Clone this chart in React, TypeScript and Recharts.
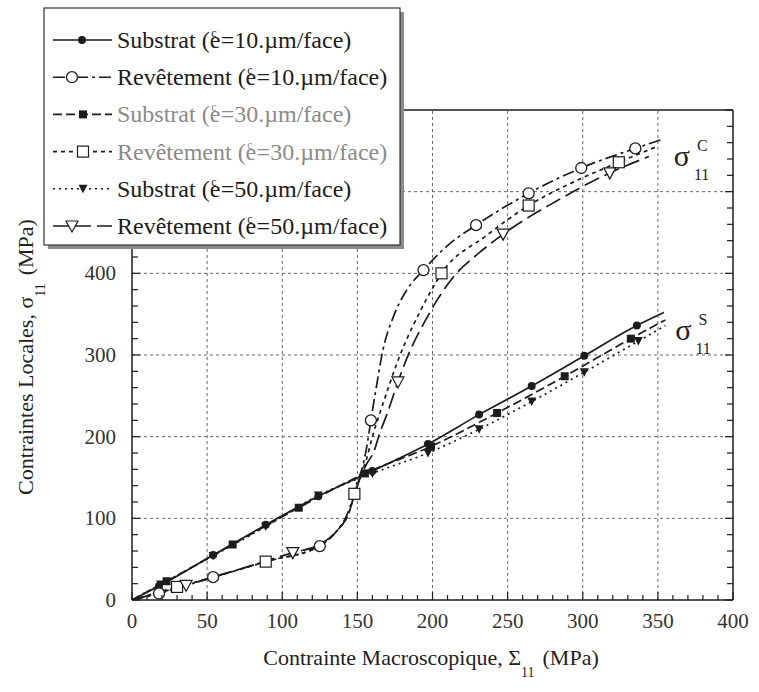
import React from "react";
import { ComposedChart, Line, XAxis, YAxis, ReferenceLine, ReferenceDot } from "recharts";

const W = 759;
const H = 692;
const ink = "#1c1c1c";
const serif = "'Liberation Serif', 'DejaVu Serif', serif";

// axis ticks
const xMajor = [0, 50, 100, 150, 200, 250, 300, 350, 400];
const yMajor = [0, 100, 200, 300, 400, 500, 600];
const xMinor = Array.from({ length: 41 }, (_, i) => i * 10);
const yMinor = Array.from({ length: 31 }, (_, i) => i * 20);

// Substrat (e=10 µm) — m: 1 where a marker is drawn
const sub10X = [0, 18, 54, 89, 124, 160, 197, 231, 266, 301, 336, 354];
const sub10Y = [0, 17, 55, 92, 127, 158, 191, 227, 262, 299, 336, 352];
const sub10M = [0, 1, 1, 1, 1, 1, 1, 1, 1, 1, 1, 0];

// Revêtement (e=10 µm)
const rev10X = [0, 18, 54, 89, 125, 136, 143, 147, 150, 153, 156, 159, 163, 167, 174, 183, 194, 210, 229, 264, 299, 335, 353];
const rev10Y = [0, 8, 28, 47, 66, 84, 104, 125, 145, 160, 185, 220, 265, 306, 347, 380, 404, 434, 459, 498, 529, 553, 564];
const rev10M = [0, 1, 1, 0, 1, 0, 0, 0, 0, 0, 0, 1, 0, 0, 0, 0, 1, 0, 1, 1, 1, 1, 0];

// Substrat (e=30 µm)
const sub30X = [0, 23, 67, 111, 155, 199, 243, 288, 332, 355];
const sub30Y = [0, 23, 68, 113, 155, 188, 229, 274, 320, 343];
const sub30M = [0, 1, 1, 1, 1, 1, 1, 1, 1, 0];

// Revêtement (e=30 µm)
const rev30X = [0, 30, 60, 89, 125, 137, 144, 148, 152, 156, 160, 165, 171, 178, 190, 198, 206, 235, 264, 294, 324, 349];
const rev30Y = [0, 16, 31, 47, 67, 86, 105, 130, 152, 172, 200, 229, 262, 298, 347, 375, 400, 445, 483, 512, 536, 555];
const rev30M = [0, 1, 0, 1, 0, 0, 0, 1, 0, 0, 0, 0, 0, 0, 0, 0, 1, 0, 1, 0, 1, 0];

// Substrat (e=50 µm)
const sub50X = [0, 19, 54, 89, 124, 160, 197, 231, 266, 301, 337, 355];
const sub50Y = [0, 19, 54, 90, 128, 155, 180, 209, 243, 279, 317, 336];
const sub50M = [0, 1, 1, 1, 1, 1, 1, 1, 1, 1, 1, 0];

// Revêtement (e=50 µm)
const rev50X = [0, 36, 72, 107, 125, 137, 144, 148, 152, 156, 161, 165, 170, 177, 185, 194, 204, 215, 231, 247, 282, 318, 344];
const rev50Y = [0, 18, 38, 58, 68, 86, 105, 128, 150, 166, 182, 205, 229, 267, 305, 338, 370, 398, 425, 448, 488, 523, 543];
const rev50M = [0, 1, 0, 1, 0, 0, 0, 0, 0, 0, 0, 0, 0, 1, 0, 0, 0, 0, 0, 1, 0, 1, 0];

type Pt = { x: number; y: number; m: number };
const toPts = (xs: number[], ys: number[], ms: number[]): Pt[] =>
  xs.map((x, i) => ({ x, y: ys[i], m: ms[i] }));

const series = [
  { key: "sub10", name: "Substrat", e: "10", pts: toPts(sub10X, sub10Y, sub10M), dash: undefined, mark: "dot", legendMx: 82, text: ink },
  { key: "rev10", name: "Revêtement", e: "10", pts: toPts(rev10X, rev10Y, rev10M), dash: "12 4 3 4", mark: "circle", legendMx: 72, text: ink },
  { key: "sub30", name: "Substrat", e: "30", pts: toPts(sub30X, sub30Y, sub30M), dash: "9 4", mark: "sq", legendMx: 83, text: "#8a8a8a" },
  { key: "rev30", name: "Revêtement", e: "30", pts: toPts(rev30X, rev30Y, rev30M), dash: "4 4", mark: "square", legendMx: 83, text: "#8a8a8a" },
  { key: "sub50", name: "Substrat", e: "50", pts: toPts(sub50X, sub50Y, sub50M), dash: "2 4", mark: "tri", legendMx: 83, text: ink },
  { key: "rev50", name: "Revêtement", e: "50", pts: toPts(rev50X, rev50Y, rev50M), dash: "16 6", mark: "triangle", legendMx: 72, text: ink },
];

function Marker({ kind, cx, cy }: { kind: string; cx: number; cy: number }) {
  switch (kind) {
    case "dot":
      return <circle cx={cx} cy={cy} r={4} fill={ink} />;
    case "circle":
      return <circle cx={cx} cy={cy} r={5.5} fill="#fff" stroke={ink} strokeWidth={1.3} />;
    case "sq":
      return <rect x={cx - 4} y={cy - 4} width={8} height={8} fill={ink} />;
    case "square":
      return <rect x={cx - 5.5} y={cy - 5.5} width={11} height={11} fill="#fff" stroke={ink} strokeWidth={1.2} />;
    case "tri":
      return <path d={`M${cx - 4.5},${cy - 4} L${cx + 4.5},${cy - 4} L${cx},${cy + 4.5} Z`} fill={ink} />;
    default:
      return (
        <path
          d={`M${cx - 6},${cy - 5} L${cx + 6},${cy - 5} L${cx},${cy + 6} Z`}
          fill="#fff"
          stroke={ink}
          strokeWidth={1.2}
        />
      );
  }
}

const tickFont = { fontFamily: serif, fontSize: 21, fill: "#333" };

function BottomTick({ x, y, payload }: any) {
  const major = payload.value % 50 === 0;
  return (
    <g>
      <line x1={x} x2={x} y1={y} y2={y - (major ? 8 : 5)} stroke={ink} strokeWidth={1.2} />
      {major && (
        <text x={x} y={y + 28} textAnchor="middle" {...tickFont}>
          {payload.value}
        </text>
      )}
    </g>
  );
}

function TopTick({ x, y, payload }: any) {
  const major = payload.value % 50 === 0;
  return <line x1={x} x2={x} y1={y} y2={y + (major ? 8 : 5)} stroke={ink} strokeWidth={1.2} />;
}

function LeftTick({ x, y, payload }: any) {
  const major = payload.value % 100 === 0;
  return (
    <g>
      <line x1={x} x2={x + (major ? 8 : 6)} y1={y} y2={y} stroke={ink} strokeWidth={1.2} />
      {major && (
        <text x={x - 16} y={y + 7} textAnchor="end" {...tickFont}>
          {payload.value}
        </text>
      )}
    </g>
  );
}

function RightTick({ x, y, payload }: any) {
  const major = payload.value % 100 === 0;
  return <line x1={x} x2={x - (major ? 8 : 6)} y1={y} y2={y} stroke={ink} strokeWidth={1.2} />;
}

function SigmaLabel(sup: string) {
  return ({ cx, cy }: any) => (
    <g fontFamily={serif} fill="#222">
      <text x={cx} y={cy + 8} fontSize={30} textAnchor="middle">σ</text>
      <text x={cx + 15} y={cy - 7} fontSize={16}>{sup}</text>
      <text x={cx + 12} y={cy + 22} fontSize={16}>11</text>
    </g>
  );
}

function Overlay() {
  const rowY = (i: number) => 40 + i * 37.2;
  return (
    <svg width={W} height={H} style={{ position: "absolute", left: 0, top: 0, pointerEvents: "none" }}>
      {/* legend */}
      <rect x={48} y={12} width={356} height={237} fill="#8c8c8c" />
      <rect x={44} y={8} width={356} height={237} fill="#fff" stroke="#333" strokeWidth={1.2} />
      {series.map((s, i) => {
        const y = rowY(i);
        return (
          <g key={s.key}>
            <line x1={53} x2={112} y1={y} y2={y} stroke={ink} strokeWidth={1.6} strokeDasharray={s.dash} />
            <Marker kind={s.mark} cx={s.legendMx} cy={y} />
            <text x={117} y={y + 8} fontFamily={serif} fontSize={24} fill={s.text}>
              <tspan>{s.name} (e</tspan>
              <tspan dx={-9} dy={-11} fontSize={12}>c</tspan>
              <tspan dx={4} dy={11}>={s.e}.µm/face)</tspan>
            </text>
          </g>
        );
      })}
      {/* x title */}
      <text x={431} y={665} textAnchor="middle" fontFamily={serif} fontSize={22} fill="#222">
        <tspan>Contrainte Macroscopique, Σ</tspan>
        <tspan dy={12} fontSize={14}>11</tspan>
        <tspan dy={-12} dx={8}>(MPa)</tspan>
      </text>
      {/* y title */}
      <text
        transform="translate(33,357) rotate(-90)"
        textAnchor="middle"
        fontFamily={serif}
        fontSize={22}
        fill="#222"
      >
        <tspan>Contraintes Locales, σ</tspan>
        <tspan dy={12} fontSize={14}>11</tspan>
        <tspan dy={-12} dx={8}>(MPa)</tspan>
      </text>
    </svg>
  );
}

export default function App() {
  return (
    <div style={{ position: "absolute", left: 0, top: 0, width: W, height: H, background: "#fff" }}>
      <ComposedChart
        width={W}
        height={H}
        margin={{ top: 109, right: 25, bottom: 91, left: 131 }}
        style={{ position: "absolute", left: 0, top: 0 }}
      >
        <XAxis
          dataKey="x"
          type="number"
          domain={[0, 400]}
          ticks={xMinor}
          interval={0}
          height={1}
          tickSize={0}
          tickMargin={0}
          tickLine={false}
          tick={BottomTick}
          axisLine={{ stroke: ink, strokeWidth: 1.5 }}
          allowDataOverflow
        />
        <XAxis
          xAxisId="t"
          orientation="top"
          type="number"
          domain={[0, 400]}
          ticks={xMinor}
          interval={0}
          height={1}
          tickSize={0}
          tickMargin={0}
          tickLine={false}
          tick={TopTick}
          axisLine={{ stroke: ink, strokeWidth: 1.5 }}
          allowDataOverflow
        />
        <YAxis
          type="number"
          domain={[0, 600]}
          ticks={yMinor}
          interval={0}
          width={1}
          tickSize={0}
          tickMargin={0}
          tickLine={false}
          tick={LeftTick}
          axisLine={{ stroke: ink, strokeWidth: 1.5 }}
          allowDataOverflow
        />
        <YAxis
          yAxisId="r"
          orientation="right"
          type="number"
          domain={[0, 600]}
          ticks={yMinor}
          interval={0}
          width={1}
          tickSize={0}
          tickMargin={0}
          tickLine={false}
          tick={RightTick}
          axisLine={{ stroke: ink, strokeWidth: 1.5 }}
          allowDataOverflow
        />
        {xMajor.slice(1, -1).map((v) => (
          <ReferenceLine key={`gx${v}`} x={v} stroke="#666" strokeDasharray="3 3" />
        ))}
        {yMajor.slice(1, -1).map((v) => (
          <ReferenceLine key={`gy${v}`} y={v} stroke="#666" strokeDasharray="3 3" />
        ))}
        {series.map((s) => (
          <Line
            key={s.key}
            data={s.pts}
            dataKey="y"
            type="monotone"
            stroke={ink}
            strokeWidth={1.7}
            strokeDasharray={s.dash}
            isAnimationActive={false}
            activeDot={false}
            dot={(p: any) =>
              p.payload.m ? (
                <Marker key={`${s.key}-${p.index}`} kind={s.mark} cx={p.cx} cy={p.cy} />
              ) : (
                <g key={`${s.key}-${p.index}`} />
              )
            }
          />
        ))}
        <ReferenceDot x={366} y={541} r={1} shape={SigmaLabel("C")} />
        <ReferenceDot x={367} y={328} r={1} shape={SigmaLabel("S")} />
      </ComposedChart>
      <Overlay />
    </div>
  );
}
